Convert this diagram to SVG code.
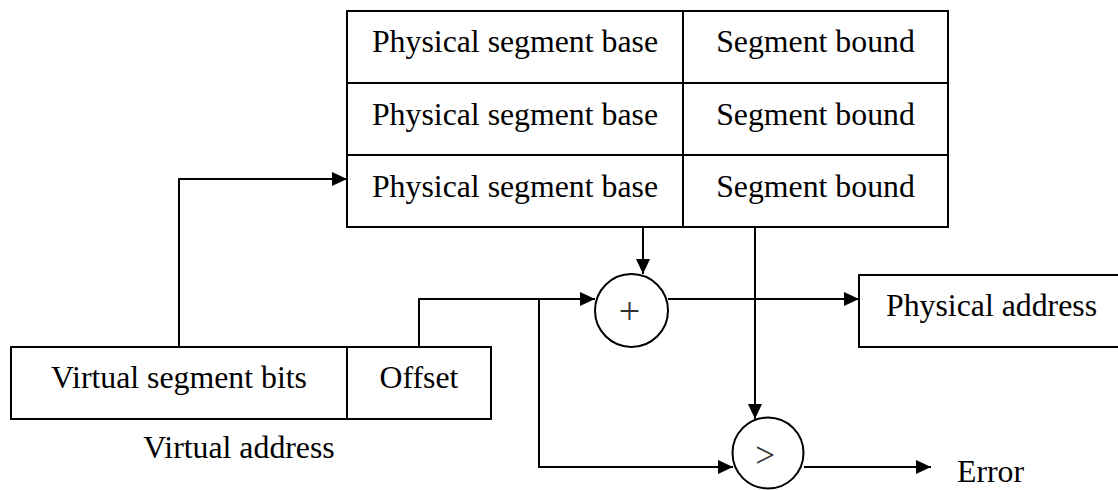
<svg xmlns="http://www.w3.org/2000/svg" width="1118" height="490" viewBox="0 0 1118 490">
  <style>
    .box { fill: #fff; stroke: #000; stroke-width: 2; }
    .rule { stroke: #000; stroke-width: 2; fill: none; }
    .op { fill: #fff; stroke: #000; stroke-width: 2; }
    .lbl { font-family: "Liberation Serif", "Times New Roman", serif; font-size: 31.8px; fill: #000; }
    .mid { text-anchor: middle; }
    .sym { font-family: "Liberation Serif", "Times New Roman", serif; fill: #333; text-anchor: middle; }
    .wire { stroke: #000; stroke-width: 2; fill: none; marker-end: url(#arrow); }
  </style>
  <defs>
    <marker id="arrow" markerUnits="userSpaceOnUse" markerWidth="16" markerHeight="14" refX="15" refY="7" orient="auto">
      <path d="M0,0 L15,7 L0,14 Z" fill="#000"/>
    </marker>
  </defs>

  <rect width="1118" height="490" fill="#fff"/>

  <!-- segment table: base / bound pairs -->
  <g id="segment-table">
    <rect class="box" x="347" y="11" width="601" height="216"/>
    <line class="rule" x1="347" y1="83" x2="948" y2="83"/>
    <line class="rule" x1="347" y1="155" x2="948" y2="155"/>
    <line class="rule" x1="683" y1="11" x2="683" y2="227"/>
    <text class="lbl mid" x="515" y="52">Physical segment base</text>
    <text class="lbl mid" x="515" y="124.5">Physical segment base</text>
    <text class="lbl mid" x="515" y="197">Physical segment base</text>
    <text class="lbl mid" x="815.5" y="52">Segment bound</text>
    <text class="lbl mid" x="815.5" y="124.5">Segment bound</text>
    <text class="lbl mid" x="815.5" y="197">Segment bound</text>
  </g>

  <!-- virtual address split into segment bits and offset -->
  <g id="virtual-address">
    <rect class="box" x="11" y="347" width="480" height="72"/>
    <line class="rule" x1="347" y1="347" x2="347" y2="419"/>
    <text class="lbl mid" x="179" y="388">Virtual segment bits</text>
    <text class="lbl mid" x="419" y="388">Offset</text>
    <text class="lbl mid" x="239" y="458">Virtual address</text>
  </g>

  <!-- adder -->
  <g id="adder">
    <circle class="op" cx="631.5" cy="310.5" r="36.5"/>
    <text class="sym" x="629.5" y="324" font-size="38">+</text>
  </g>

  <!-- bound comparator -->
  <g id="comparator">
    <circle class="op" cx="768" cy="453" r="35.5"/>
    <text class="sym" x="765" y="467" font-size="35">&gt;</text>
  </g>

  <!-- result -->
  <g id="physical-address">
    <rect class="box" x="859" y="275" width="270" height="72"/>
    <text class="lbl" x="886" y="316">Physical address</text>
  </g>

  <g id="error">
    <text class="lbl" x="957" y="482">Error</text>
  </g>

  <!-- connectors -->
  <g id="connectors">
    <path class="wire" d="M179,347 V179 H347"/>
    <path class="wire" d="M419,347 V299 H595"/>
    <path class="wire" d="M539,299 V467 H733"/>
    <path class="wire" d="M643,227 V274"/>
    <path class="wire" d="M755,227 V419"/>
    <path class="wire" d="M668,299 H859"/>
    <path class="wire" d="M804,467 H931"/>
  </g>
</svg>
